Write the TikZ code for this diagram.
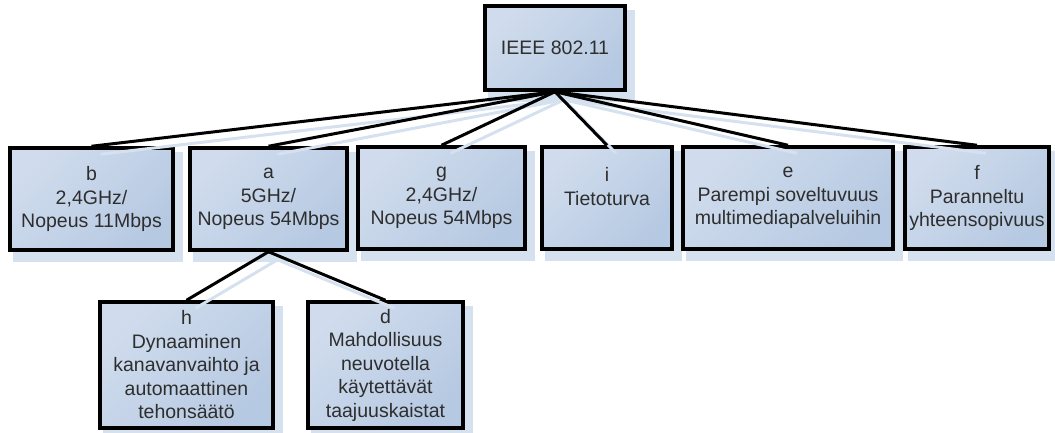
\documentclass[tikz,border=0pt]{standalone}
\usepackage{fontspec}
\setmainfont{Liberation Sans}
\usetikzlibrary{backgrounds}
\definecolor{boxlight}{HTML}{D0DCED}
\definecolor{boxdark}{HTML}{B6C9E2}
\definecolor{shadeblue}{HTML}{D6E1F0}
\definecolor{ink}{HTML}{2E2E2E}
\begin{document}
\begin{tikzpicture}[x=1pt,y=-1pt,
  box/.style={draw=black, line width=3.5pt, rectangle, inner sep=0pt,
    top color=boxlight, bottom color=boxdark, shading angle=45,
    align=center, text=ink, font=\fontsize{19.5}{23.5}\selectfont},
  boxshadow/.style={fill=shadeblue},
  link/.style={line width=3pt, black},
  linkshadow/.style={line width=3pt, shadeblue}]
\useasboundingbox (0,0) rectangle (1055,432);

% root
\node[box, minimum width=140pt, minimum height=84pt] (root) at (555,48) {IEEE 802.11};

% first level
\node[box, minimum width=163pt, minimum height=102pt] (b) at (91.5,199) {b\\2,4GHz/\\Nopeus 11Mbps};
\node[box, minimum width=157pt, minimum height=102pt] (a) at (268.5,199) {a\\5GHz/\\Nopeus 54Mbps};
\node[box, minimum width=167pt, minimum height=102pt] (g) at (441.5,198) {g\\2,4GHz/\\Nopeus 54Mbps};
\node[box, minimum width=130pt, minimum height=102pt] (i) at (607,198) {i\\Tietoturva\\\mbox{}};
\node[box, minimum width=210pt, minimum height=102pt] (e) at (788,198) {e\\Parempi soveltuvuus\\multimediapalveluihin};
\node[box, minimum width=144pt, minimum height=102pt] (f) at (977,198) {f\\Paranneltu\\yhteensopivuus};

% second level under a
\node[box, minimum width=173pt, minimum height=126pt] (h) at (186.5,365) {h\\Dynaaminen\\kanavanvaihto ja\\automaattinen\\tehonsäätö};
\node[box, minimum width=155pt, minimum height=126pt] (d) at (385.5,365) {d\\Mahdollisuus\\neuvotella\\käytettävät\\taajuuskaistat};

% soft box shadows, offset down and right
\begin{pgfonlayer}{background}
  \foreach \n in {root,b,a,g,i,e,f,h,d}
    \fill[boxshadow] ([shift={(5,6)}]\n.north west) rectangle ([shift={(8,10)}]\n.south east);
\end{pgfonlayer}

% connector shadows
\foreach \c in {b,a,g,i,e,f}
  \draw[linkshadow] ([shift={(9,8)}]root.south) -- ([shift={(9,8)}]\c.north);
\foreach \c in {h,d}
  \draw[linkshadow] ([shift={(9,8)}]a.south) -- ([shift={(9,8)}]\c.north);

% connectors
\foreach \c in {b,a,g,i,e,f}
  \draw[link] (root.south) -- (\c.north);
\foreach \c in {h,d}
  \draw[link] (a.south) -- (\c.north);
\end{tikzpicture}
\end{document}
